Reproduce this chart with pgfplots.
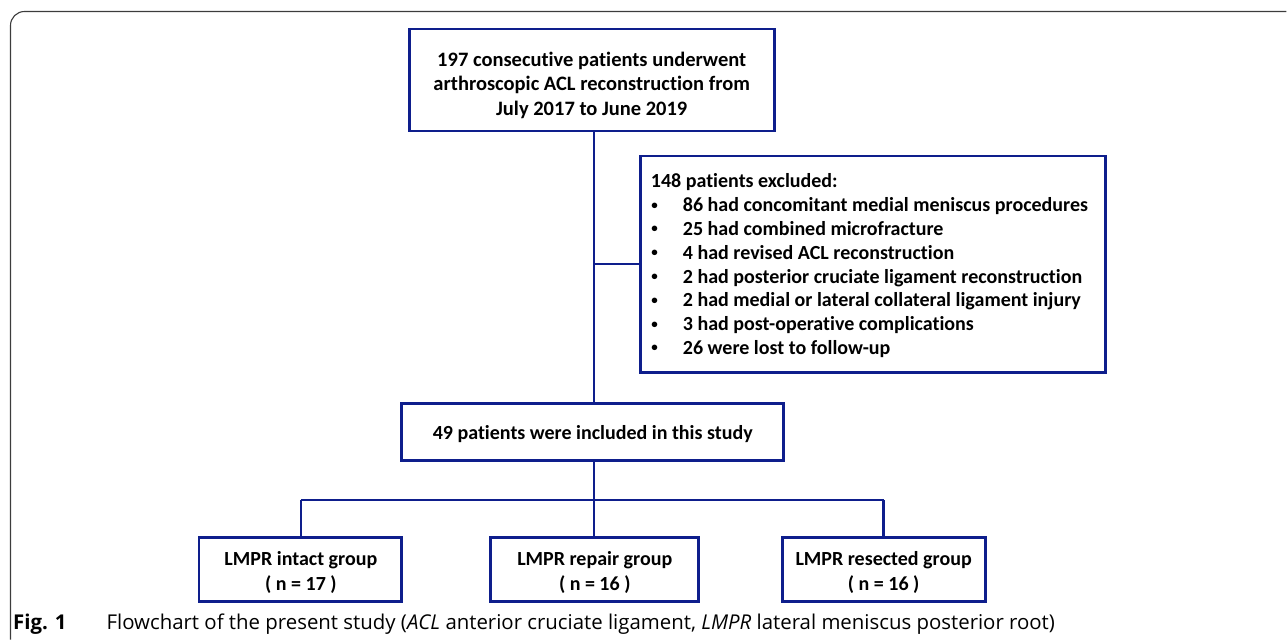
\documentclass[border=0pt]{standalone}
\usepackage{pgfplots}
\pgfplotsset{compat=1.18}
\usepackage{fontspec}
\setmainfont{Carlito}[Ligatures=NoCommon]
\newfontfamily\capfont{Open Sans}
\definecolor{navy}{RGB}{14,30,140}
\definecolor{framegray}{RGB}{60,60,60}
\tikzset{
  bx/.style={font=\fontsize{20bp}{25bp}\selectfont\bfseries, align=center, inner sep=0pt},
  bxa/.style={font=\fontsize{20.5bp}{24.5bp}\selectfont\bfseries, align=center, inner sep=0pt},
  ex/.style={font=\fontsize{20bp}{24bp}\selectfont\bfseries, anchor=base west, inner sep=0pt},
  bul/.style={font=\fontsize{13bp}{13bp}\selectfont\bfseries, anchor=center, inner sep=0pt},
}
\begin{document}
\begin{tikzpicture}
\begin{axis}[
  scale only axis, width=1287bp, height=640bp,
  xmin=0, xmax=1287, ymin=0, ymax=640, y dir=reverse,
  hide axis, clip=false,
  every axis plot/.append style={navy, line width=2.8bp, mark=none, line join=miter},
]
% page extent
\path (axis cs:0,0) rectangle (axis cs:1287,640);
% outer frame
\draw[framegray, line width=1.1bp, rounded corners=14bp] (axis cs:10.5,640) -- (axis cs:10.5,11.5) -- (axis cs:1287,11.5);
% connectors
\addplot[line width=2.5bp] coordinates {(594,131) (594,404)};
\addplot[line width=2.5bp] coordinates {(594,264) (641,264)};
\addplot[line width=2.5bp] coordinates {(594,461) (594,500)};
\addplot[line width=2.5bp] coordinates {(301,500) (884,500)};
\addplot[line width=2.5bp] coordinates {(301,500) (301,538)};
\addplot[line width=2.5bp] coordinates {(594,500) (594,538)};
\addplot[line width=2.5bp] coordinates {(884,500) (884,538)};
% boxes
\addplot[fill=white] coordinates {(590,29) (775,29) (775,131) (410,131) (410,29) (590,29)};
\addplot[fill=white] coordinates {(870,156) (1106,156) (1106,373) (641,373) (641,156) (870,156)};
\addplot[fill=white] coordinates {(590,404) (784,404) (784,461) (402,461) (402,404) (590,404)};
\addplot[fill=white] coordinates {(300,538) (402,538) (402,602) (199,602) (199,538) (300,538)};
\addplot[fill=white] coordinates {(594,538) (699,538) (699,602) (491,602) (491,538) (594,538)};
\addplot[fill=white] coordinates {(884,538) (986,538) (986,602) (783,602) (783,538) (884,538)};
% box texts
\node[bxa] at (axis cs:592,85) {197 consecutive patients underwent\\arthroscopic ACL reconstruction from\\July 2017 to June 2019};
\node[bx] at (axis cs:593,434) {49 patients were included in this study};
\node[bx] at (axis cs:301,573) {LMPR intact group\\( n = 17 )};
\node[bx] at (axis cs:595,573) {LMPR repair group\\( n = 16 )};
\node[bx] at (axis cs:884,573) {LMPR resected group\\( n = 16 )};
% exclusion list
\node[ex] at (axis cs:651,188) {148 patients excluded:};
\node[bul] at (axis cs:655,206) {•};
\node[ex] at (axis cs:683,211.8) {86 had concomitant medial meniscus procedures};
\node[bul] at (axis cs:655,229.8) {•};
\node[ex] at (axis cs:683,235.6) {25 had combined microfracture};
\node[bul] at (axis cs:655,253.6) {•};
\node[ex] at (axis cs:683,259.4) {4 had revised ACL reconstruction};
\node[bul] at (axis cs:655,277.4) {•};
\node[ex] at (axis cs:683,283.2) {2 had posterior cruciate ligament reconstruction};
\node[bul] at (axis cs:655,301.2) {•};
\node[ex] at (axis cs:683,307.0) {2 had medial or lateral collateral ligament injury};
\node[bul] at (axis cs:655,325.0) {•};
\node[ex] at (axis cs:683,330.8) {3 had post-operative complications};
\node[bul] at (axis cs:655,348.8) {•};
\node[ex] at (axis cs:683,354.6) {26 were lost to follow-up};
% caption
\node[anchor=base west, inner sep=0pt, font=\capfont\fontsize{20.4bp}{24bp}\selectfont] at (axis cs:13,629.5)
  {\textbf{Fig. 1}\hspace{40bp}Flowchart of the present study (\textit{ACL} anterior cruciate ligament, \textit{LMPR} lateral meniscus posterior root)};
\end{axis}
\end{tikzpicture}
\end{document}
